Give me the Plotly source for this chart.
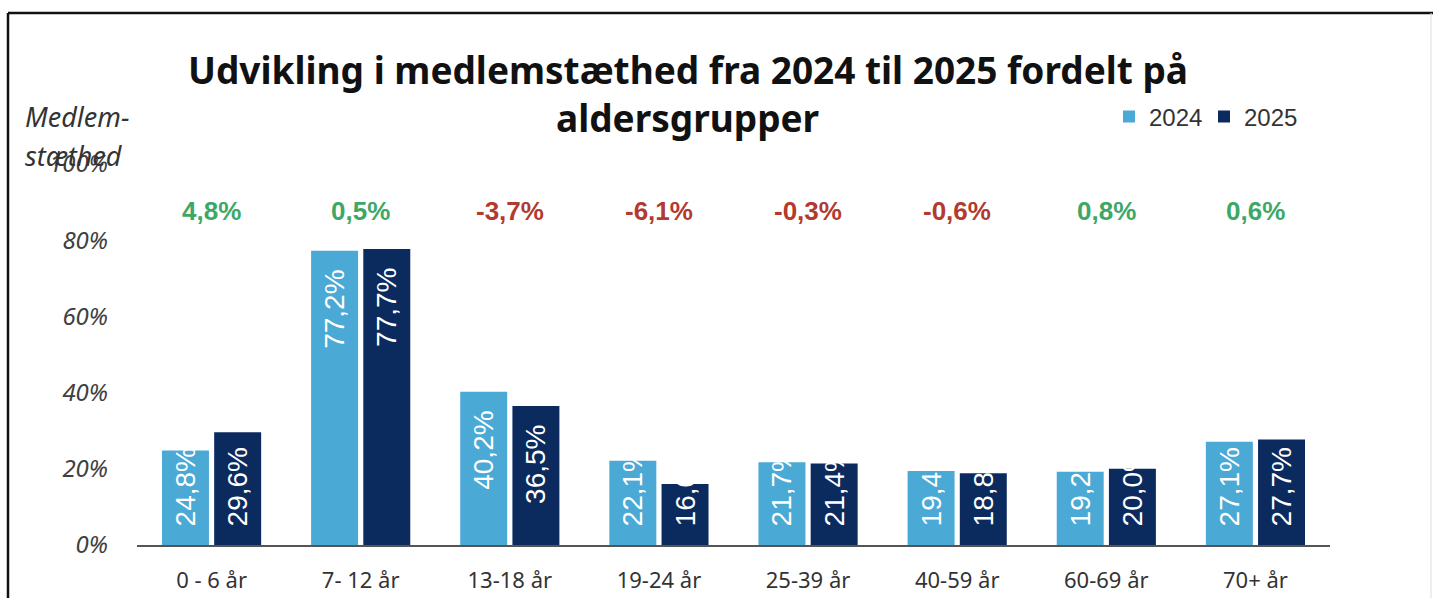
import plotly.graph_objects as go

categories = ["0 - 6 år", "7- 12 år", "13-18 år", "19-24 år", "25-39 år", "40-59 år", "60-69 år", "70+ år"]
values_2024 = [24.8, 77.2, 40.2, 22.1, 21.7, 19.4, 19.2, 27.1]
values_2025 = [29.6, 77.7, 36.5, 16.0, 21.4, 18.8, 20.0, 27.7]
series_names = ["2024", "2025"]
y_ticks = [0, 20, 40, 60, 80, 100]

C24 = "#4BA9D6"
C25 = "#0B2A5E"
GREEN = "#3DA866"
RED = "#B23A2E"

W, H = 1433, 598
L, R, T, B = 137, 1330, 164, 545  # plot area pixels
FIT_MIN = 32  # bars shorter than this get their label anchored at the base

PAD = "\u00a0\u00a0"


def px_x(p):
    return (p - L) / (R - L)


def px_y(p):
    return (B - p) / (B - T)


def fmt(v):
    return f"{v:.1f}".replace(".", ",") + "%"


fig = go.Figure()
for name, vals, col in [(series_names[0], values_2024, C24),
                        (series_names[1], values_2025, C25)]:
    tall = [v if v >= FIT_MIN else None for v in vals]
    short = [v if v < FIT_MIN else None for v in vals]
    # labels anchored at the top of the bar
    fig.add_trace(go.Bar(
        x=categories, y=tall, name=name, legendgroup=name, offsetgroup=name,
        marker=dict(color=col, line=dict(width=0)),
        text=[fmt(v) + PAD if v is not None else "" for v in tall],
        textposition="inside", insidetextanchor="end",
        textangle=-90, constraintext="none",
        insidetextfont=dict(family="Liberation Sans, Arial", size=28, color="#FFFFFF"),
        hoverinfo="skip",
    ))
    # short bars: labels anchored at the base, overflow hidden on white
    fig.add_trace(go.Bar(
        x=categories, y=short, name=name, legendgroup=name, offsetgroup=name,
        showlegend=False,
        marker=dict(color=col, line=dict(width=0)),
        text=[PAD + fmt(v) if v is not None else "" for v in short],
        textposition="inside", insidetextanchor="start",
        textangle=-90, constraintext="none",
        insidetextfont=dict(family="Liberation Sans, Arial", size=28, color="#FFFFFF"),
        hoverinfo="skip",
    ))

annotations = []
# change labels
for cat, a, b in zip(categories, values_2024, values_2025):
    d = round(b - a, 1)
    annotations.append(dict(
        x=cat, xref="x", y=px_y(211), yref="paper",
        text=f"<b>{fmt(d)}</b>", showarrow=False,
        font=dict(family="Liberation Sans, Arial", size=26, color=GREEN if d >= 0 else RED),
        xanchor="center", yanchor="middle",
    ))

# title lines
TITLE_FONT = dict(family="Noto Sans", size=37, color="#111111")
annotations.append(dict(x=px_x(688), y=px_y(70), xref="paper", yref="paper",
                        text="<b>Udvikling i medlemstæthed fra 2024 til 2025 fordelt på</b>",
                        showarrow=False, xanchor="center", yanchor="middle", font=TITLE_FONT))
annotations.append(dict(x=px_x(688), y=px_y(118), xref="paper", yref="paper",
                        text="<b>aldersgrupper</b>",
                        showarrow=False, xanchor="center", yanchor="middle", font=TITLE_FONT))
# y axis title
YT_FONT = dict(family="Noto Sans", size=27, color="#333333")
annotations.append(dict(x=px_x(23), y=px_y(116), xref="paper", yref="paper",
                        text="<i>Medlem-</i>", showarrow=False, xanchor="left", yanchor="middle",
                        font=YT_FONT))
annotations.append(dict(x=px_x(23), y=px_y(155), xref="paper", yref="paper",
                        text="<i>stæthed</i>", showarrow=False, xanchor="left", yanchor="middle",
                        font=YT_FONT))

shapes = [
    dict(type="line", xref="paper", yref="paper", x0=px_x(8), x1=px_x(1433), y0=px_y(13), y1=px_y(13),
         line=dict(color="#111111", width=2.5)),
    dict(type="line", xref="paper", yref="paper", x0=px_x(8), x1=px_x(8), y0=px_y(13), y1=px_y(598),
         line=dict(color="#111111", width=2.5)),
    dict(type="line", xref="paper", yref="paper", x0=px_x(1431), x1=px_x(1431), y0=px_y(13), y1=px_y(598),
         line=dict(color="#dddddd", width=1)),
]

fig.update_layout(
    width=W, height=H,
    margin=dict(l=L, r=W - R, t=T, b=H - B, pad=0, autoexpand=False),
    paper_bgcolor="white", plot_bgcolor="white",
    barmode="group", bargap=0.30, bargroupgap=0.10,
    showlegend=True,
    legend=dict(orientation="h", x=px_x(1109), y=px_y(117), xanchor="left", yanchor="middle",
                font=dict(family="Liberation Sans, Arial", size=24, color="#333333"),
                itemwidth=30, tracegroupgap=0, bgcolor="rgba(0,0,0,0)",
                entrywidth=50, entrywidthmode="pixels"),
    annotations=annotations,
    shapes=shapes,
    xaxis=dict(showgrid=False, showline=True, linecolor="#555555", linewidth=2,
               ticks="", tickfont=dict(family="Noto Sans", size=22, color="#333333"),
               ticklabelstandoff=15, fixedrange=True, automargin=False),
    yaxis=dict(range=[0, 100], tickvals=y_ticks, ticktext=[f"<i>{v}%</i>" for v in y_ticks],
               showgrid=False, zeroline=False, showline=False, ticks="",
               tickfont=dict(family="Noto Sans", size=24, color="#404040"),
               ticklabelstandoff=28, fixedrange=True, automargin=False),
    font=dict(family="Noto Sans"),
)

fig.write_html("out.html")
